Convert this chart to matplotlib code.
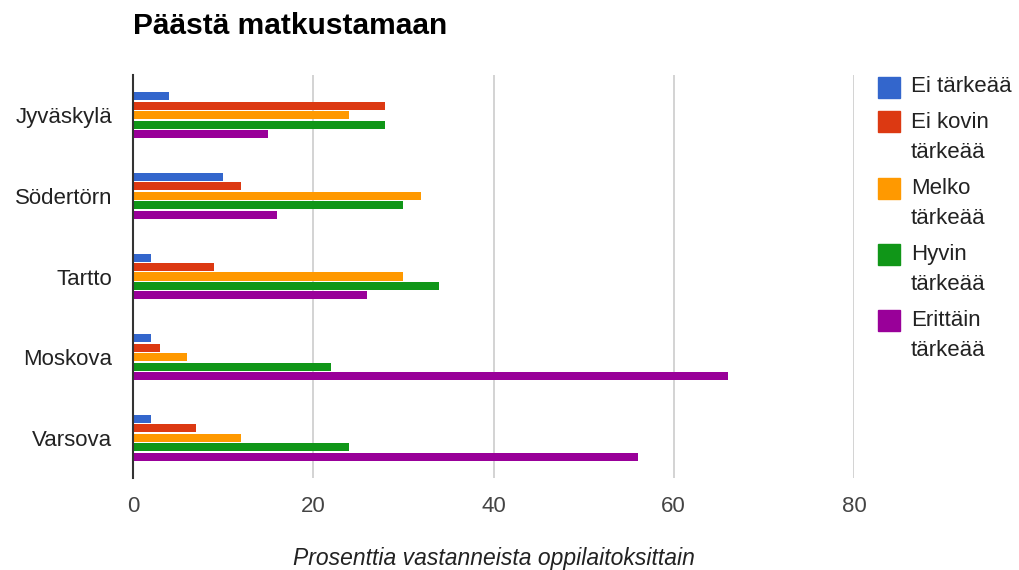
import numpy as np
import matplotlib
matplotlib.use("Agg")
from matplotlib import pyplot as plt
from matplotlib.patches import Rectangle

plt.rcParams['font.family'] = ['Liberation Sans', 'DejaVu Sans']

cities = ["Jyväskylä", "Södertörn", "Tartto", "Moskova", "Varsova"]
series_names = ["Ei tärkeää", "Ei kovin\ntärkeää", "Melko\ntärkeää", "Hyvin\ntärkeää", "Erittäin\ntärkeää"]
ei_tarkeaa = [4, 10, 2, 2, 2]
ei_kovin = [28, 12, 9, 3, 7]
melko = [24, 32, 30, 6, 12]
hyvin = [28, 30, 34, 22, 24]
erittain = [15, 16, 26, 66, 56]
x_ticks = [0, 20, 40, 60, 80]
colors = ["#3366CC", "#DC3912", "#FF9900", "#109618", "#990099"]

values = [ei_tarkeaa, ei_kovin, melko, hyvin, erittain]

fig = plt.figure(figsize=(10.2, 5.7), dpi=100)
ax = fig.add_axes([133 / 1020, 1 - 478 / 570, (854 - 133) / 1020, (478 - 75) / 570])

pos = np.arange(len(cities))
step = 0.117
for i, (vals, col) in enumerate(zip(values, colors)):
    ax.barh(pos + (i - 2) * step, vals, height=0.1, color=col, zorder=3)

ax.set_xlim(0, 80)
ax.set_ylim(len(cities) - 0.5, -0.5)
ax.set_yticks(pos)
ax.set_yticklabels(cities, fontsize=16, color="#222222")
ax.set_xticks(x_ticks)
ax.set_xticklabels([str(t) for t in x_ticks], fontsize=16, color="#444444")
ax.tick_params(length=0)
ax.tick_params(axis="y", pad=15)
ax.tick_params(axis="x", pad=13)
for t in x_ticks[1:]:
    ax.axvline(t, color="#cccccc", lw=1.2, zorder=1)
for s in ["top", "right", "bottom"]:
    ax.spines[s].set_visible(False)
ax.spines["left"].set_color("#333333")
ax.spines["left"].set_linewidth(1.5)
ax.spines["left"].set_zorder(4)

fig.text(133 / 1020, 1 - 26 / 570, "Päästä matkustamaan", fontsize=21.5,
         fontweight="bold", va="center", ha="left", color="black")
fig.text(494 / 1020, 1 - 558 / 570, "Prosenttia vastanneista oppilaitoksittain",
         fontsize=16.5, style="italic", ha="center", va="center", color="#222222")

# legend drawn by hand so the swatch sits on the first line
y = 87
for name, col in zip(series_names, colors):
    fig.add_artist(Rectangle((878 / 1020, 1 - (y + 10.5) / 570), 22 / 1020, 21 / 570,
                             transform=fig.transFigure, color=col))
    lines = name.split("\n")
    for k, ln in enumerate(lines):
        fig.text(911 / 1020, 1 - (y + k * 31) / 570, ln, fontsize=16,
                 va="center", ha="left", color="#222222")
    y += len(lines) * 31 + 4

fig.savefig("out.png", dpi=100)
